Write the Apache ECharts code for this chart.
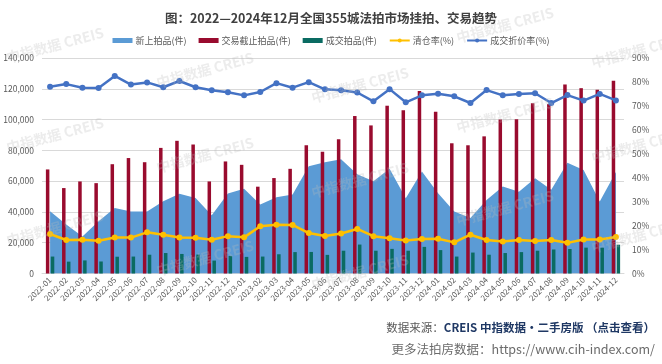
<!DOCTYPE html>
<html>
<head>
<meta charset="utf-8">
<script src="https://cdn.jsdelivr.net/npm/echarts@6/dist/echarts.min.js"></script>
<style>html,body{margin:0;padding:0;background:#fff}#c{width:662px;height:364px}</style>
</head>
<body>
<div id="c"></div>
<script>
var categories = ['2022-01','2022-02','2022-03','2022-04','2022-05','2022-06','2022-07','2022-08','2022-09','2022-10','2022-11','2022-12',
  '2023-01','2023-02','2023-03','2023-04','2023-05','2023-06','2023-07','2023-08','2023-09','2023-10','2023-11','2023-12',
  '2024-01','2024-02','2024-03','2024-04','2024-05','2024-06','2024-07','2024-08','2024-09','2024-10','2024-11','2024-12'];
var newListings = [40500,31800,24000,34000,42500,40200,40300,47000,51800,49000,37800,52000,
  55000,44800,49600,51400,69600,72200,74200,64500,60000,68000,48900,66200,
  52200,40300,36000,47700,56500,53100,61800,54400,72000,67200,46700,66000];
var closedListings = [67600,55500,59800,58700,71000,75000,72300,81600,86200,83800,59800,72800,
  70600,56400,62000,68000,83300,79100,87200,102300,96200,109000,106000,118500,
  105100,84600,83300,89100,100000,100200,110600,110000,122800,120400,119300,125300];
var dealListings = [11000,7700,8500,7800,10900,11000,12200,13300,12700,12300,8400,11400,
  10800,11000,12500,13900,14000,12100,14800,18800,14800,16000,14800,17300,
  15200,11000,13600,12200,13300,13900,14800,15600,15900,16800,16800,18700];
var clearanceRate = [16.5,14.0,14.1,13.7,15.0,15.0,17.2,16.2,15.0,14.9,14.1,15.6,
  15.1,19.7,20.4,20.3,16.9,15.7,16.7,18.6,15.6,14.7,13.8,14.4,
  14.5,13.0,16.2,14.0,13.4,14.0,13.6,14.0,12.8,14.2,14.2,15.2];
var discountRate = [78.0,79.1,77.6,77.5,82.5,78.9,79.8,77.8,80.4,77.8,76.5,75.7,
  74.4,75.8,79.5,77.6,79.9,76.9,76.5,75.6,71.9,77.0,71.5,74.4,
  75.1,74.0,71.2,76.6,74.4,75.0,75.3,71.2,74.5,72.2,75.0,72.3];
var seriesNames = ['新上拍品(件)','交易截止拍品(件)','成交拍品(件)','清仓率(%)','成交折价率(%)'];
var titleText = '图：2022—2024年12月全国355城法拍市场挂拍、交易趋势';

var chart = echarts.init(document.getElementById('c'), null, {renderer:'canvas'});
var wmFont = 'bold 14px "Noto Sans CJK SC", sans-serif';
var wmPos = [[55,45],[55,135],[55,228],[205,70],[205,155],[205,258],[360,85],[360,180],[360,272],[505,25],[505,115],[505,208],[640,50],[640,145],[640,235]];
var graphics = wmPos.map(function(p){
  return {type:'text', x:p[0], y:p[1], rotation:0.26, z:100, silent:true,
    style:{text:'中指数据 CREIS', font:wmFont, fill:'rgba(185,185,185,0.28)', align:'center', verticalAlign:'middle'}};
});
graphics.push({type:'text', right:7, top:322, z:110, style:{
  text:'{a|数据来源：}{b|CREIS 中指数据•二手房版 （点击查看）}',
  rich:{a:{fontSize:11.5, fill:'#595959', fontFamily:'"Noto Sans CJK SC"'}, b:{fontSize:11.5, fill:'#1f3864', fontWeight:'bold', fontFamily:'"Noto Sans CJK SC"'}}
}});
graphics.push({type:'text', right:7, top:343, z:110, style:{
  text:'更多法拍房数据：https://www.cih-index.com/', fontSize:12.5, fill:'#6b6b6b', fontFamily:'"Noto Sans CJK SC"'
}});

chart.setOption({
  backgroundColor:'#fff',
  animation:false,
  textStyle:{fontFamily:'"Noto Sans CJK SC", "Noto Sans", sans-serif'},
  title:{text:titleText, left:'center', top:7, textStyle:{fontSize:12.5, fontWeight:'bold', color:'#404040'}},
  legend:{left:'center', top:31, itemWidth:20, itemHeight:5, itemGap:12,
    textStyle:{fontSize:9, color:'#595959', padding:[0,0,0,-2]},
    data:[{name:seriesNames[0], icon:'rect'},{name:seriesNames[1], icon:'rect'},{name:seriesNames[2], icon:'rect'},{name:seriesNames[3]},{name:seriesNames[4]}]},
  grid:{left:42, right:38, top:58, bottom:90.5},
  xAxis:{type:'category', data:categories, boundaryGap:true,
    axisLine:{lineStyle:{color:'#d9d9d9'}}, axisTick:{show:false},
    axisLabel:{rotate:45, interval:0, fontSize:8, color:'#595959', margin:5}},
  yAxis:[
    {type:'value', min:0, max:140000, interval:20000,
      axisLabel:{fontSize:8.5, color:'#595959', margin:8},
      axisLine:{show:false}, axisTick:{show:false},
      splitLine:{lineStyle:{color:'#d9d9d9'}}},
    {type:'value', min:0, max:90, interval:10,
      axisLabel:{fontSize:8.5, color:'#595959', formatter:'{value}%', margin:8},
      axisLine:{show:false}, axisTick:{show:false}, splitLine:{show:false}}
  ],
  series:[
    {name:seriesNames[0], type:'line', data:newListings, symbol:'none', lineStyle:{width:0},
      itemStyle:{color:'#5b9bd5'}, areaStyle:{color:'#5b9bd5', opacity:1}, z:1},
    {name:seriesNames[1], type:'bar', data:closedListings, barWidth:3.5, barGap:'40%', itemStyle:{color:'#990b2e'}, z:2},
    {name:seriesNames[2], type:'bar', data:dealListings, barWidth:3.5, barGap:'40%', itemStyle:{color:'#0a6b62'}, z:2},
    {name:seriesNames[3], type:'line', yAxisIndex:1, data:clearanceRate, symbol:'circle', symbolSize:6,
      lineStyle:{width:2.5, color:'#ffc000'}, itemStyle:{color:'#ffc000'}, z:3},
    {name:seriesNames[4], type:'line', yAxisIndex:1, data:discountRate, symbol:'circle', symbolSize:6,
      lineStyle:{width:2.5, color:'#4472c4'}, itemStyle:{color:'#4472c4'}, z:3}
  ],
  graphic:graphics
});
</script>
</body>
</html>
